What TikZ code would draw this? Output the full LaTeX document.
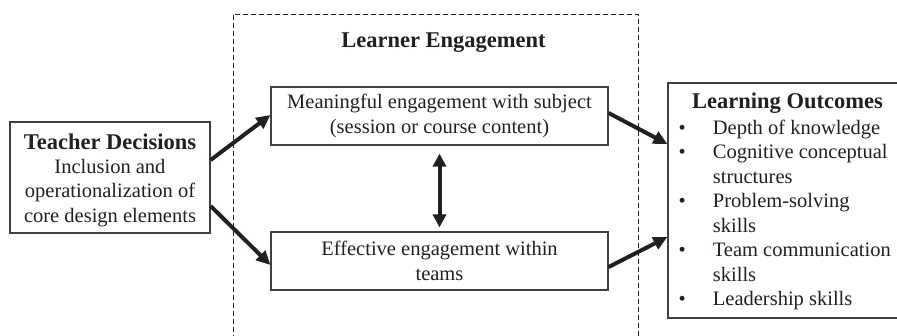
\documentclass[tikz,border=0pt]{standalone}
\usepackage{fontspec}
\setmainfont{Liberation Serif}
\usetikzlibrary{arrows.meta}
\definecolor{ink}{HTML}{231F20}
\definecolor{boxline}{HTML}{404040}
\tikzset{
  box/.style={draw=boxline, line width=1.2pt, rectangle, inner sep=0pt, text=ink, align=center,
              font=\fontsize{20.5}{24.5}\selectfont},
  head/.style={text=ink, font=\fontsize{22.5}{25}\selectfont\bfseries, inner sep=0pt},
  body/.style={text=ink, font=\fontsize{20.5}{24.5}\selectfont, inner sep=0pt},
  arr/.style={draw=ink, line width=4pt, -{Triangle[length=14pt,width=13pt]}},
  dblarr/.style={draw=ink, line width=4pt, {Triangle[length=13pt,width=13pt]}-{Triangle[length=13pt,width=13pt]}},
  dashbox/.style={draw=ink, line width=0.8pt, dash pattern=on 5pt off 3pt}
}
\begin{document}
\begin{tikzpicture}[x=1pt,y=-1pt]
\useasboundingbox (0,0) rectangle (897,335);
% dashed learner engagement frame (open at the bottom)
\coordinate (dbl) at (233,340);
\coordinate (dtl) at (233,14);
\coordinate (dtr) at (638,14);
\coordinate (dbr) at (638,340);
\draw[dashbox] (dbl) -- (dtl) -- (dtr) -- (dbr);
\node[head] (le) at (443.5,43) {Learner Engagement};

% teacher decisions
\node[box, minimum width=200pt, minimum height=111pt] (teacher) at (110,177.5) {};
\node[head, anchor=center] (th) at (110,142) {Teacher Decisions};
\node[body, align=center, anchor=north] (tb) at (110,159) {Inclusion and\\operationalization of\\core design elements};

% engagement boxes
\node[box, minimum width=337pt, minimum height=58pt] (mean) at (439.5,116)
  {Meaningful engagement with subject\\(session or course content)};
\node[box, minimum width=337pt, minimum height=58pt] (eff) at (439.5,261)
  {Effective engagement within\\teams};

% learning outcomes (right edge runs past the page)
\node[box, minimum width=245pt, minimum height=235pt] (out) at (790.5,200.5) {};
\node[head] (oh) at (787.5,103) {Learning Outcomes};
\node[body, anchor=north west, align=left] (ol) at (678.5,117) {%
  \begin{tabular}{@{}l@{\hspace{27pt}}l@{}}
  • & Depth of knowledge\\
  • & Cognitive conceptual\\
    & structures\\
  • & Problem-solving\\
    & skills\\
  • & Team communication\\
    & skills\\
  • & Leadership skills
  \end{tabular}};

% connectors
\draw[arr] ([yshift=17.5pt]teacher.east) -- ([yshift=1pt]mean.west);
\draw[arr] ([yshift=-28.5pt]teacher.east) -- ([yshift=-4pt]eff.west);
\draw[arr] ([yshift=3pt]mean.east) -- ([yshift=56.5pt]out.west);
\draw[arr] ([yshift=-6pt]eff.east) -- ([yshift=-36.5pt]out.west);
\draw[dblarr, shorten <=8pt, shorten >=4pt] (mean.south) -- (eff.north);
\end{tikzpicture}
\end{document}
